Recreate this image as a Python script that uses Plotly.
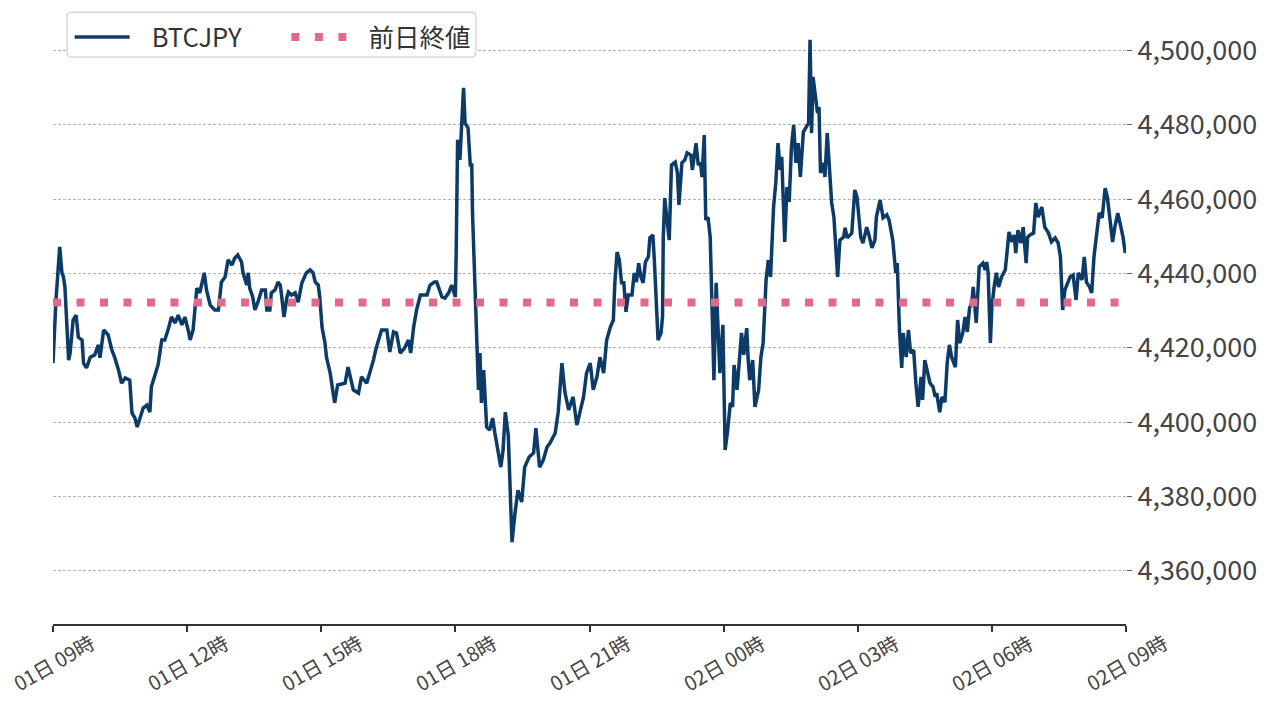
import pandas as pd
import plotly.graph_objects as go

# BTCJPY, 01日 09時 -> 02日 09時 (minutes after the start, price in yen)
start = pd.Timestamp("2021-08-01 09:00")
end = pd.Timestamp("2021-08-02 09:00")

minute_offsets = [
    0, 4, 9, 12, 14, 16, 21, 23, 27, 31, 34, 39, 41, 45, 50, 56, 61, 63, 68, 74,
    79, 83, 88, 92, 97, 103, 106, 110, 113, 117, 121, 126, 130, 132, 137, 141, 146, 150, 155, 159,
    164, 168, 173, 177, 182, 184, 188, 193, 197, 200, 203, 206, 211, 217, 222, 226, 231, 235, 240, 244,
    248, 253, 255, 260, 262, 264, 268, 271, 275, 280, 285, 287, 291, 293, 298, 302, 305, 307, 310, 314,
    316, 320, 325, 329, 334, 340, 345, 349, 352, 356, 358, 361, 365, 367, 372, 376, 378, 382, 387, 392,
    396, 399, 403, 410, 414, 421, 425, 430, 434, 441, 448, 452, 457, 461, 466, 472, 477, 480, 484, 488,
    493, 502, 506, 512, 515, 522, 526, 531, 535, 540, 541, 543, 546, 549, 551, 553, 557, 560, 562, 563,
    566, 569, 571, 573, 575, 578, 582, 586, 590, 593, 598, 601, 604, 607, 611, 616, 620, 624, 629, 633,
    639, 645, 648, 653, 658, 663, 667, 674, 678, 683, 687, 692, 698, 703, 707, 712, 716, 721, 725, 730,
    734, 739, 743, 748, 752, 754, 757, 760, 763, 766, 769, 772, 777, 780, 783, 786, 789, 792, 795, 799,
    801, 805, 807, 809, 812, 816, 818, 819, 821, 824, 827, 830, 835, 838, 840, 844, 848, 851, 856, 858,
    863, 866, 869, 871, 874, 876, 879, 882, 885, 887, 890, 893, 895, 899, 902, 905, 909, 912, 914, 918,
    921, 924, 927, 931, 933, 935, 939, 942, 947, 950, 953, 957, 960, 963, 967, 970, 973, 976, 978, 980,
    982, 985, 988, 991, 994, 997, 1000, 1003, 1007, 1011, 1014, 1016, 1018, 1020, 1023, 1026, 1028, 1030, 1034, 1036,
    1039, 1042, 1045, 1048, 1051, 1053, 1056, 1061, 1063, 1066, 1072, 1076, 1079, 1084, 1087, 1092, 1095, 1099, 1103, 1105,
    1110, 1114, 1119, 1122, 1127, 1130, 1131, 1133, 1136, 1139, 1141, 1145, 1148, 1151, 1155, 1158, 1161, 1165, 1167, 1170,
    1173, 1177, 1181, 1184, 1186, 1190, 1193, 1197, 1200, 1203, 1206, 1211, 1214, 1217, 1221, 1224, 1227, 1230, 1233, 1235,
    1239, 1241, 1243, 1248, 1251, 1253, 1255, 1258, 1260, 1263, 1266, 1269, 1273, 1278, 1281, 1283, 1287, 1290, 1292, 1295,
    1299, 1302, 1306, 1308, 1311, 1316, 1319, 1322, 1327, 1331, 1336, 1340, 1345, 1349, 1352, 1355, 1358, 1365, 1369, 1373,
    1376, 1381, 1384, 1387, 1391, 1394, 1397, 1401, 1404, 1408, 1412, 1415, 1419, 1422, 1425, 1429, 1432, 1436, 1439,
]

btcjpy = [
    4415900, 4432900, 4447200, 4440200, 4439100, 4436400, 4416700, 4418600, 4427500, 4428800,
    4422900, 4422100, 4415900, 4414600, 4417500, 4418100, 4420800, 4417300, 4424800, 4423500,
    4419400, 4417300, 4414000, 4410500, 4411900, 4411300, 4402500, 4401100, 4398700, 4401400,
    4403800, 4404600, 4402700, 4409500, 4413200, 4415400, 4422100, 4422100, 4425300, 4428300,
    4426700, 4428800, 4426200, 4428300, 4424300, 4422100, 4424800, 4436100, 4434800, 4437500,
    4440200, 4435600, 4431500, 4430200, 4430200, 4437700, 4439100, 4443700, 4442300, 4444200,
    4445000, 4443100, 4440200, 4436900, 4440200, 4436100, 4433700, 4430200, 4432300, 4435600,
    4435600, 4430200, 4430200, 4434800, 4435600, 4437700, 4436900, 4433700, 4428300, 4433700,
    4435000, 4434200, 4434800, 4432300, 4437500, 4440200, 4441000, 4440200, 4437700, 4436900,
    4433700, 4425600, 4421300, 4417500, 4413200, 4407800, 4405200, 4410000, 4410300, 4410500,
    4414800, 4412200, 4408700, 4407800, 4412200, 4410500, 4413200, 4416700, 4420200, 4424800,
    4424800, 4418900, 4424300, 4424000, 4418600, 4420000, 4422100, 4418600, 4425600, 4430200,
    4434200, 4434200, 4436900, 4437700, 4437700, 4433700, 4433400, 4434800, 4436900, 4433700,
    4444500, 4476000, 4470600, 4482100, 4490000, 4480500, 4479200, 4469200, 4469200, 4456300,
    4438300, 4419400, 4408700, 4418600, 4405200, 4414000, 4398700, 4397900, 4401100, 4397100,
    4390600, 4387900, 4392500, 4402700, 4396500, 4367700, 4375500, 4381700, 4378500, 4387900,
    4390600, 4391700, 4398400, 4387900, 4389800, 4393300, 4394400, 4397100, 4402700, 4415900,
    4408100, 4403300, 4406800, 4399200, 4402500, 4406800, 4413200, 4415900, 4408700, 4412200,
    4417500, 4413200, 4422100, 4425600, 4427500, 4437500, 4445800, 4443700, 4437500, 4437500,
    4429700, 4434200, 4434200, 4440200, 4437700, 4442800, 4439100, 4437500, 4443100, 4444500,
    4449600, 4450400, 4443700, 4434800, 4422100, 4424000, 4428300, 4449800, 4460300, 4454400,
    4449000, 4469200, 4470000, 4467100, 4458500, 4469800, 4470600, 4472500, 4471900, 4467900,
    4475100, 4469200, 4469800, 4466000, 4477300, 4454400, 4455200, 4449800, 4429400, 4411300,
    4437500, 4425600, 4413200, 4426200, 4392500, 4397100, 4405200, 4404100, 4415400, 4408700,
    4417500, 4424000, 4418100, 4425300, 4416700, 4411300, 4416700, 4404100, 4408700, 4417500,
    4421300, 4438300, 4443700, 4439100, 4457900, 4464400, 4475100, 4467900, 4471400, 4460600,
    4448500, 4463300, 4459300, 4474100, 4480000, 4469800, 4475100, 4466000, 4478100, 4479500,
    4480500, 4502900, 4477800, 4492900, 4487500, 4483200, 4484800, 4467100, 4469800, 4466000,
    4477800, 4467100, 4459000, 4455200, 4447200, 4439100, 4449000, 4449800, 4452300, 4449600,
    4450900, 4462500, 4460600, 4449800, 4448200, 4452500, 4450400, 4446900, 4449000, 4455200,
    4459800, 4455000, 4455800, 4454400, 4449000, 4443700, 4440200, 4442800, 4424800, 4414600,
    4424000, 4417500, 4424800, 4418600, 4419400, 4410500, 4404100, 4412200, 4406000, 4416700,
    4414000, 4410500, 4409500, 4406800, 4407800, 4402700, 4406800, 4405400, 4415900, 4420800,
    4417500, 4414800, 4427500, 4421300, 4424000, 4428300, 4424300, 4430700, 4432100, 4436400,
    4426700, 4436400, 4441800, 4442800, 4441000, 4443100, 4440200, 4421300, 4431000, 4436400,
    4440200, 4436400, 4439100, 4441000, 4446300, 4451200, 4448500, 4450400, 4445500, 4451700,
    4448200, 4452500, 4442800, 4449800, 4450400, 4450900, 4459000, 4455200, 4457900, 4452500,
    4450900, 4448500, 4449600, 4448200, 4444500, 4430200, 4435600, 4439100, 4439600, 4432900,
    4440200, 4438300, 4444500, 4437700, 4436400, 4434800, 4444500, 4451700, 4456300, 4455000,
    4463000, 4460600, 4453600, 4448500, 4452500, 4456300, 4453600, 4449800, 4445500,
]

prev_close = 4432200  # 前日終値

tick_times = [
    "2021-08-01 09:00", "2021-08-01 12:00", "2021-08-01 15:00", "2021-08-01 18:00",
    "2021-08-01 21:00", "2021-08-02 00:00", "2021-08-02 03:00", "2021-08-02 06:00",
    "2021-08-02 09:00",
]
tick_labels = [
    "01日 09時", "01日 12時", "01日 15時", "01日 18時", "01日 21時",
    "02日 00時", "02日 03時", "02日 06時", "02日 09時",
]

FONT = "Noto Sans CJK JP"
NAVY = "#0c3b68"
PINK = "#df6a8b"
PAD = "\u00a0\u00a0\u00a0"  # extra gap between legend sample and its label

times = start + pd.to_timedelta(minute_offsets, unit="min")

fig = go.Figure()
fig.add_trace(go.Scatter(
    x=times, y=btcjpy, mode="lines", name=PAD + "BTCJPY", legend="legend",
    line=dict(color=NAVY, width=3.5),
))
fig.add_trace(go.Scatter(
    x=[start, end], y=[prev_close, prev_close], mode="lines", name=PAD + "前日終値",
    legend="legend2",
    line=dict(color=PINK, width=8, dash="8px,15.5px"),
))

# rotated labels centred under each tick (matplotlib style)
for t, lab in zip(tick_times, tick_labels):
    fig.add_annotation(
        x=t, xref="x", y=0, yref="paper", text=lab, showarrow=False,
        textangle=-30, xanchor="center", yanchor="middle",
        xshift=0, yshift=-38, font=dict(family=FONT, size=20, color="#444444"),
    )

# legend frame (white box with slightly rounded corners) in paper units
x0, x1, y0, y1 = 0.01305, 0.3942, 0.9513, 1.0268
rx, ry = 0.0045, 0.008
frame = (
    f"M {x0 + rx},{y0} L {x1 - rx},{y0} Q {x1},{y0} {x1},{y0 + ry} "
    f"L {x1},{y1 - ry} Q {x1},{y1} {x1 - rx},{y1} "
    f"L {x0 + rx},{y1} Q {x0},{y1} {x0},{y1 - ry} "
    f"L {x0},{y0 + ry} Q {x0},{y0} {x0 + rx},{y0} Z"
)
fig.add_shape(type="path", path=frame, xref="paper", yref="paper",
              fillcolor="white", line=dict(color="#d0d0d0", width=1.2), layer="above")

legend_style = dict(
    orientation="h", xanchor="left", yanchor="top", y=1.0238,
    bgcolor="rgba(0,0,0,0)", borderwidth=0,
    font=dict(family=FONT, size=25.5, color="#333333"), itemwidth=55,
)

fig.update_layout(
    width=1272, height=695,
    margin=dict(l=45, r=154, t=20, b=79, autoexpand=False),
    paper_bgcolor="white", plot_bgcolor="white",
    font=dict(family=FONT, color="#444444"),
    showlegend=True,
    legend=dict(x=0.0155, **legend_style),
    legend2=dict(x=0.2175, **legend_style),
    xaxis=dict(
        type="date", range=[start, end],
        tickvals=tick_times, showticklabels=False,
        ticks="outside", ticklen=6, tickwidth=1.5, tickcolor="#333333",
        showline=True, linecolor="#333333", linewidth=2,
        showgrid=False, zeroline=False,
    ),
    yaxis=dict(
        side="right", range=[4345670, 4506100],
        tick0=4360000, dtick=20000, tickformat=",d",
        ticks="outside", ticklen=5, tickcolor="#666666",
        tickfont=dict(family=FONT, size=27, color="#444444"),
        showgrid=True, gridcolor="#b5b5b5", gridwidth=1, griddash="3px,2px",
        showline=False, zeroline=False,
    ),
)

fig.write_html("out.html")
